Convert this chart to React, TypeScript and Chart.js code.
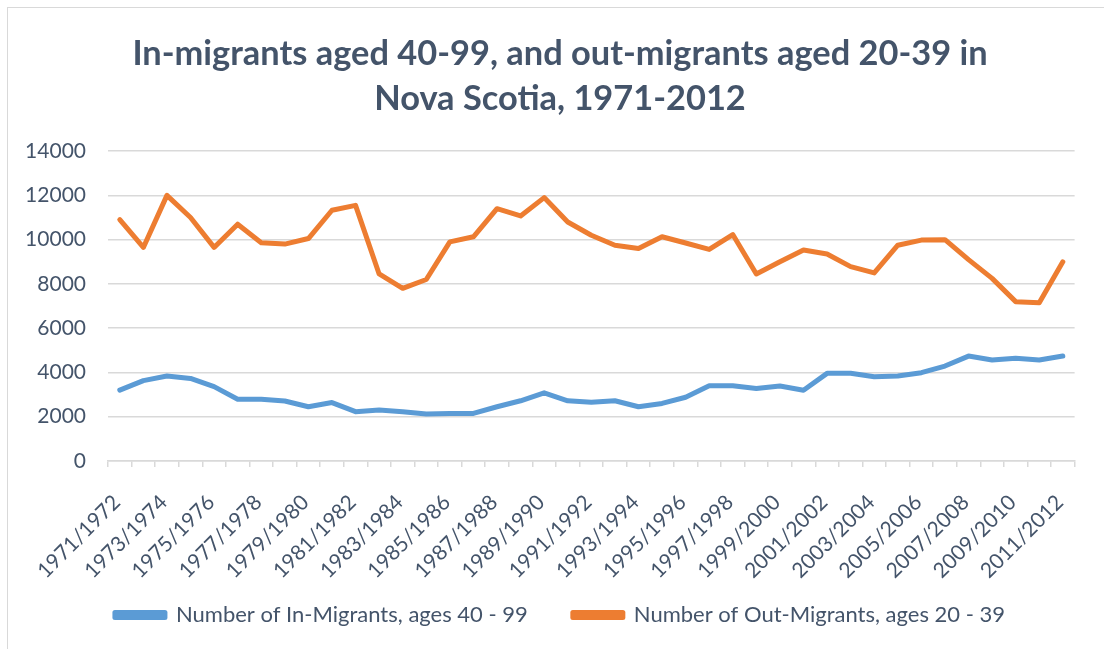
import React, { useEffect, useRef } from "react";
import { Chart, registerables } from "chart.js";

Chart.register(...registerables);

const periods: string[] = [
  "1971/1972", "1972/1973", "1973/1974", "1974/1975", "1975/1976", "1976/1977",
  "1977/1978", "1978/1979", "1979/1980", "1980/1981", "1981/1982", "1982/1983",
  "1983/1984", "1984/1985", "1985/1986", "1986/1987", "1987/1988", "1988/1989",
  "1989/1990", "1990/1991", "1991/1992", "1992/1993", "1993/1994", "1994/1995",
  "1995/1996", "1996/1997", "1997/1998", "1998/1999", "1999/2000", "2000/2001",
  "2001/2002", "2002/2003", "2003/2004", "2004/2005", "2005/2006", "2006/2007",
  "2007/2008", "2008/2009", "2009/2010", "2010/2011", "2011/2012",
];

const inMigrants40to99: number[] = [
  3200, 3630, 3840, 3730, 3360, 2790, 2790, 2710, 2450, 2640, 2230, 2300,
  2230, 2120, 2150, 2150, 2450, 2720, 3080, 2720, 2650, 2720, 2450, 2600,
  2880, 3400, 3400, 3280, 3390, 3200, 3960, 3960, 3810, 3840, 3990, 4290,
  4740, 4560, 4640, 4560, 4740,
];

const outMigrants20to39: number[] = [
  10900, 9650, 12000, 11000, 9650, 10700, 9860, 9800, 10050, 11330, 11550, 8450,
  7800, 8200, 9900, 10130, 11400, 11070, 11900, 10800, 10200, 9750, 9600, 10130,
  9850, 9560, 10230, 8450, 9000, 9530, 9350, 8780, 8500, 9750, 9980, 10000,
  9100, 8250, 7200, 7150, 9000,
];

const yTicks: number[] = [0, 2000, 4000, 6000, 8000, 10000, 12000, 14000];

const titleLines: string[] = [
  "In-migrants aged 40-99, and out-migrants aged 20-39 in",
  "Nova Scotia, 1971-2012",
];

const seriesNames: string[] = [
  "Number of In-Migrants, ages 40 - 99",
  "Number of Out-Migrants, ages 20 - 39",
];

const TEXT = "#44546A";
const GRID = "#D9D9D9";
const FONT = "Lato, 'Open Sans', sans-serif";

const noLabelClip = (scale: any) => {
  scale._computeLabelArea = () => undefined;
};

export default function App() {
  const ref = useRef<HTMLCanvasElement | null>(null);

  useEffect(() => {
    if (!ref.current) return;
    const chart = new Chart(ref.current, {
      type: "line",
      data: {
        labels: periods,
        datasets: [
          {
            label: seriesNames[0],
            data: inMigrants40to99,
            borderColor: "#5B9BD5",
            backgroundColor: "#5B9BD5",
            borderWidth: 5,
            pointRadius: 0,
            tension: 0,
            borderJoinStyle: "round",
            borderCapStyle: "round",
          },
          {
            label: seriesNames[1],
            data: outMigrants20to39,
            borderColor: "#ED7D31",
            backgroundColor: "#ED7D31",
            borderWidth: 5,
            pointRadius: 0,
            tension: 0,
            borderJoinStyle: "round",
            borderCapStyle: "round",
          },
        ],
      },
      options: {
        responsive: false,
        animation: false,
        layout: { padding: { left: 45, right: 29, top: 0, bottom: 13 } },
        plugins: {
          title: {
            display: true,
            text: titleLines,
            color: TEXT,
            font: { family: FONT, size: 34.4, weight: "bold", lineHeight: 1.31 },
            padding: { top: 31, bottom: 30 },
          },
          legend: {
            position: "bottom",
            labels: {
              color: TEXT,
              font: { family: FONT, size: 22 },
              boxWidth: 50,
              boxHeight: 5,
              padding: 45,
            },
          },
          tooltip: { enabled: false },
        },
        scales: {
          x: {
            offset: true,
            afterFit: (scale: any) => {
              scale.height = 98;
              noLabelClip(scale);
            },
            grid: {
              offset: true,
              drawOnChartArea: false,
              drawTicks: true,
              tickLength: 6,
              color: GRID,
              lineWidth: 1.5,
            },
            border: { color: GRID, width: 1.5 },
            ticks: {
              autoSkip: false,
              minRotation: 45,
              maxRotation: 45,
              padding: 23,
              labelOffset: -3,
              color: TEXT,
              font: { family: FONT, size: 21 },
              callback: (_v: any, i: number) => (i % 2 === 0 ? periods[i] : ""),
            },
          },
          y: {
            min: yTicks[0],
            max: yTicks[yTicks.length - 1],
            afterBuildTicks: (scale: any) => {
              scale.ticks = yTicks.map((v) => ({ value: v }));
            },
            afterFit: (scale: any) => {
              scale.width = 63;
              noLabelClip(scale);
            },
            grid: { color: GRID, lineWidth: 1.5, drawTicks: false },
            border: { display: false },
            ticks: {
              padding: 22,
              color: TEXT,
              font: { family: FONT, size: 21 },
              callback: (v: any) => String(v),
            },
          },
        },
      },
    });
    return () => chart.destroy();
  }, []);

  return (
    <div style={{ position: "fixed", left: 0, top: 0, width: 1104, height: 649, background: "#fff" }}>
      <div
        style={{
          position: "absolute",
          left: 7,
          top: 7,
          width: 1097,
          height: 642,
          borderTop: "1.5px solid #D9D9D9",
          borderLeft: "1.5px solid #D9D9D9",
          boxSizing: "border-box",
        }}
      />
      <canvas ref={ref} width={1104} height={649} style={{ position: "absolute", left: 0, top: 0 }} />
    </div>
  );
}
